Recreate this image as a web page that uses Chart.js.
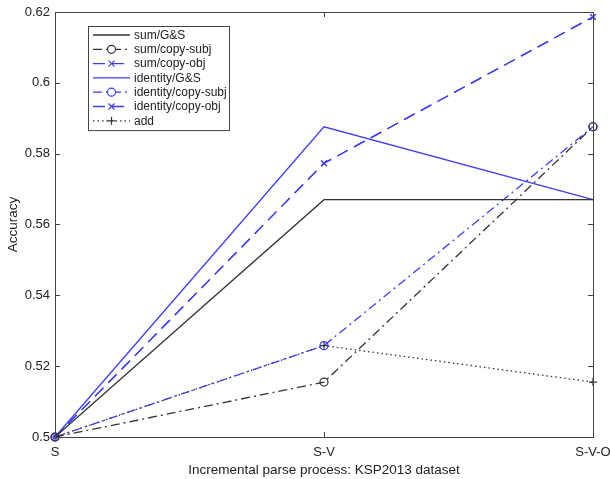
<!DOCTYPE html>
<html>
<head>
<meta charset="utf-8">
<script src="https://cdn.jsdelivr.net/npm/chart.js@4"></script>
<style>
  html, body { margin: 0; padding: 0; background: #fff; }
  #wrap { width: 610px; height: 479px; }
</style>
</head>
<body>
<div id="wrap"><canvas id="chart" width="610" height="479"></canvas></div>
<script>
// Data
const stages = ['S', 'S-V', 'S-V-O'];
const yTicks = [0.5, 0.52, 0.54, 0.56, 0.58, 0.6, 0.62];

const sumGS = [0.5, 0.567, 0.567];
const sumCopySubj = [0.5, 0.5155, 0.5876];
const sumCopyObj = [0.5, 0.5773, 0.6186];
const identityGS = [0.5, 0.5876, 0.567];
const identityCopySubj = [0.5, 0.5258, 0.5876];
const identityCopyObj = [0.5, 0.5773, 0.6186];
const addValues = [0.5, 0.5258, 0.5155];

const BLACK = '#333333';
const BLUE = 'rgb(60,60,255)';
const FONT = '"Liberation Sans", Arial, sans-serif';

const toPoints = vals => vals.map((v, i) => ({ x: i, y: v }));

function series(label, vals, color, dash, marker) {
    return {
        label,
        data: toPoints(vals),
        borderColor: color,
        backgroundColor: 'rgba(0,0,0,0)',
        borderWidth: 1.3,
        borderDash: dash,
        pointStyle: marker || 'circle',
        pointRadius: marker ? 4 : 0,
        pointBorderColor: color,
        pointBorderWidth: 1.2,
        tension: 0,
        fill: false
    };
}

const datasets = [
    series('sum/G&S', sumGS, BLACK, []),
    series('sum/copy-subj', sumCopySubj, BLACK, [9, 4, 2, 4], 'circle'),
    series('sum/copy-obj', sumCopyObj, BLUE, [12, 7], 'crossRot'),
    series('identity/G&S', identityGS, BLUE, []),
    series('identity/copy-subj', identityCopySubj, BLUE, [9, 4, 2, 4], 'circle'),
    series('identity/copy-obj', identityCopyObj, BLUE, [12, 7], 'crossRot'),
    series('add', addValues, BLACK, [1.5, 3], 'cross')
];

// MATLAB-style box, inward ticks and legend
const matlabFrame = {
    id: 'matlabFrame',
    afterDraw(chart) {
        const { ctx, chartArea: a, scales } = chart;
        ctx.save();
        ctx.strokeStyle = '#444';
        ctx.lineWidth = 1;
        ctx.setLineDash([]);
        ctx.strokeRect(a.left + 0.5, a.top + 0.5, a.right - a.left, a.bottom - a.top);
        const tl = 5;
        yTicks.forEach(v => {
            const y = Math.round(scales.y.getPixelForValue(v)) + 0.5;
            ctx.beginPath();
            ctx.moveTo(a.left, y); ctx.lineTo(a.left + tl, y);
            ctx.moveTo(a.right, y); ctx.lineTo(a.right - tl, y);
            ctx.stroke();
        });
        stages.forEach((s, i) => {
            const x = Math.round(scales.x.getPixelForValue(i)) + 0.5;
            ctx.beginPath();
            ctx.moveTo(x, a.bottom); ctx.lineTo(x, a.bottom - tl);
            ctx.moveTo(x, a.top); ctx.lineTo(x, a.top + tl);
            ctx.stroke();
        });

        // legend
        const lx = 88, ly = 26, lw = 141, rowH = 14.3;
        const lh = datasets.length * rowH + 4;
        ctx.fillStyle = '#fff';
        ctx.fillRect(lx, ly, lw, lh);
        ctx.strokeStyle = '#444';
        ctx.strokeRect(lx + 0.5, ly + 0.5, lw, lh);
        ctx.font = '12px ' + FONT;
        ctx.textBaseline = 'middle';
        datasets.forEach((ds, i) => {
            const y = ly + 9 + i * rowH;
            ctx.strokeStyle = ds.borderColor;
            ctx.lineWidth = 1.3;
            ctx.setLineDash(ds.borderDash);
            ctx.beginPath();
            ctx.moveTo(lx + 5, y); ctx.lineTo(lx + 42, y);
            ctx.stroke();
            ctx.setLineDash([]);
            if (ds.pointRadius > 0) {
                const cx = lx + 23.5;
                ctx.lineWidth = 1.2;
                ctx.fillStyle = '#fff';
                ctx.beginPath();
                if (ds.pointStyle === 'circle') {
                    ctx.arc(cx, y, 4, 0, Math.PI * 2);
                    ctx.fill();
                    ctx.stroke();
                } else if (ds.pointStyle === 'crossRot') {
                    ctx.moveTo(cx - 3, y - 3); ctx.lineTo(cx + 3, y + 3);
                    ctx.moveTo(cx - 3, y + 3); ctx.lineTo(cx + 3, y - 3);
                    ctx.stroke();
                } else {
                    ctx.moveTo(cx - 4, y); ctx.lineTo(cx + 4, y);
                    ctx.moveTo(cx, y - 4); ctx.lineTo(cx, y + 4);
                    ctx.stroke();
                }
            }
            ctx.fillStyle = '#222';
            ctx.fillText(ds.label, lx + 46, y + 0.5);
        });
        ctx.restore();
    }
};

new Chart(document.getElementById('chart'), {
    type: 'line',
    data: { datasets },
    options: {
        responsive: false,
        animation: false,
        clip: false,
        layout: { padding: { top: 12, right: 17, left: 0, bottom: 0 } },
        plugins: { legend: { display: false }, tooltip: { enabled: false } },
        scales: {
            x: {
                type: 'linear',
                min: 0,
                max: 2,
                grid: { display: false, drawTicks: false },
                border: { display: false },
                afterBuildTicks: scale => {
                    scale.ticks = stages.map((_, i) => ({ value: i }));
                },
                afterFit: scale => {
                    scale.height = 42;
                    scale.paddingLeft = 0;
                    scale.paddingRight = 0;
                },
                ticks: {
                    color: '#222',
                    font: { family: FONT, size: 13 },
                    padding: 8,
                    maxRotation: 0,
                    autoSkip: false,
                    callback: v => stages[v]
                },
                title: {
                    display: true,
                    text: 'Incremental parse process: KSP2013 dataset',
                    color: '#222',
                    font: { family: FONT, size: 13.5 },
                    padding: { top: 0, bottom: 1 }
                }
            },
            y: {
                min: 0.5,
                max: 0.62,
                grid: { display: false, drawTicks: false },
                border: { display: false },
                afterBuildTicks: scale => {
                    scale.ticks = yTicks.map(v => ({ value: v }));
                },
                afterFit: scale => {
                    scale.width = 55;
                    scale.paddingTop = 0;
                    scale.paddingBottom = 0;
                },
                ticks: {
                    color: '#222',
                    font: { family: FONT, size: 13 },
                    padding: 5,
                    callback: v => String(+v.toFixed(2))
                },
                title: {
                    display: true,
                    text: 'Accuracy',
                    color: '#222',
                    font: { family: FONT, size: 13.5 },
                    padding: { top: 5, bottom: 0 }
                }
            }
        }
    },
    plugins: [matlabFrame]
});
</script>
</body>
</html>
